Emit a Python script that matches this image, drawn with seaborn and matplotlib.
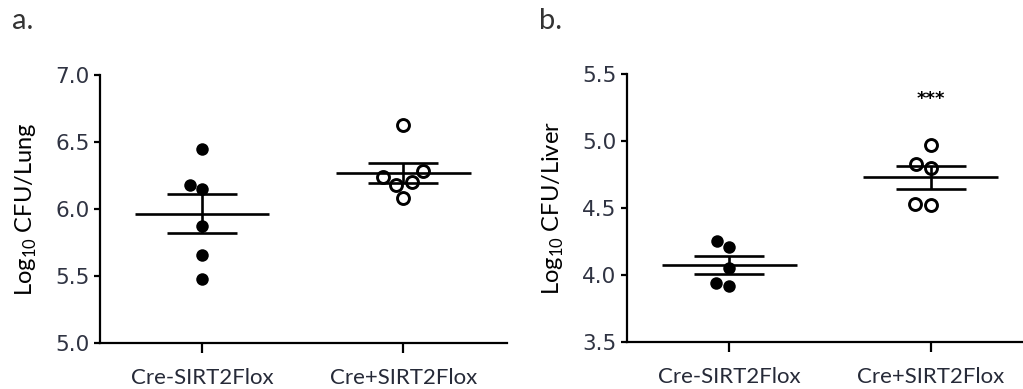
import numpy as np
import pandas as pd
import matplotlib
matplotlib.use("Agg")
import matplotlib.pyplot as plt
import seaborn as sns

groups = ["Cre-SIRT2Flox", "Cre+SIRT2Flox"]
lung_cre_minus = [6.45, 6.18, 6.15, 5.87, 5.66, 5.48]
lung_cre_plus = [6.63, 6.28, 6.24, 6.20, 6.18, 6.08]
liver_cre_minus = [4.25, 4.21, 4.05, 3.94, 3.92]
liver_cre_plus = [4.97, 4.83, 4.80, 4.53, 4.52]
lung_ticks = [5.0, 5.5, 6.0, 6.5, 7.0]
liver_ticks = [3.5, 4.0, 4.5, 5.0, 5.5]
sig_label = "***"

sns.set_theme(style="ticks")
plt.rcParams["font.family"] = ["Lato", "DejaVu Sans"]
plt.rcParams["mathtext.fontset"] = "custom"
plt.rcParams["mathtext.rm"] = "Lato"

fig = plt.figure(figsize=(10.23, 3.89), dpi=100)
ax_a = fig.add_axes([0.0978, 0.1183, 0.398, 0.689])
ax_b = fig.add_axes([0.613, 0.1216, 0.386, 0.687])

tick_col = "#2f3342"


def panel(ax, a_vals, b_vals, ticks, ylabel):
    df = pd.DataFrame({
        "group": [groups[0]] * len(a_vals) + [groups[1]] * len(b_vals),
        "value": list(a_vals) + list(b_vals),
    })
    sns.swarmplot(data=df[df.group == groups[0]], x="group", y="value",
                  order=groups, ax=ax, color="black", size=9.0,
                  edgecolor="black", linewidth=0, zorder=2)
    sns.swarmplot(data=df[df.group == groups[1]], x="group", y="value",
                  order=groups, ax=ax, color="white", size=8.6,
                  edgecolor="black", linewidth=2.1, zorder=2)
    for i, g in enumerate(groups):
        v = df.loc[df.group == g, "value"].to_numpy()
        m = v.mean()
        se = v.std(ddof=1) / np.sqrt(len(v))
        ax.hlines(m, i - 0.335, i + 0.335, color="black", lw=1.9, zorder=3)
        ax.hlines([m - se, m + se], i - 0.174, i + 0.174, color="black",
                  lw=1.9, zorder=3)
        ax.vlines(i, m - se, m + se, color="black", lw=1.9, zorder=3)
    ax.set_ylim(ticks[0], ticks[-1])
    ax.set_yticks(ticks)
    ax.set_yticklabels([f"{t:.1f}" for t in ticks], family="DejaVu Sans",
                       fontsize=15.5, color=tick_col)
    ax.set_xlabel("")
    ax.set_ylabel(ylabel, fontsize=17, color="black", labelpad=12)
    ax.tick_params(axis="x", labelsize=16, colors="black", labelcolor="#262a38",
                   length=7, width=1.6, pad=11)
    ax.tick_params(axis="y", length=4.5, width=1.6, pad=3, colors="black",
                   labelcolor=tick_col)
    for s in ["top", "right"]:
        ax.spines[s].set_visible(False)
    for s in ["left", "bottom"]:
        ax.spines[s].set_linewidth(1.6)
        ax.spines[s].set_color("black")


panel(ax_a, lung_cre_minus, lung_cre_plus, lung_ticks,
      r"Log$_{\mathregular{10}}$ CFU/Lung")
ax_a.set_xlim(-0.507, 1.517)

panel(ax_b, liver_cre_minus, liver_cre_plus, liver_ticks,
      r"Log$_{\mathregular{10}}$ CFU/Liver")
ax_b.set_xlim(-0.506, 1.452)
ax_b.text(1, 5.32, sig_label, ha="center", va="center", fontsize=13,
          color="black", family="DejaVu Sans", fontweight="bold")

fig.text(0.012, 0.925, "a.", fontsize=21, color="#333333")
fig.text(0.527, 0.925, "b.", fontsize=21, color="#333333")

fig.savefig("out.png", dpi=100)
